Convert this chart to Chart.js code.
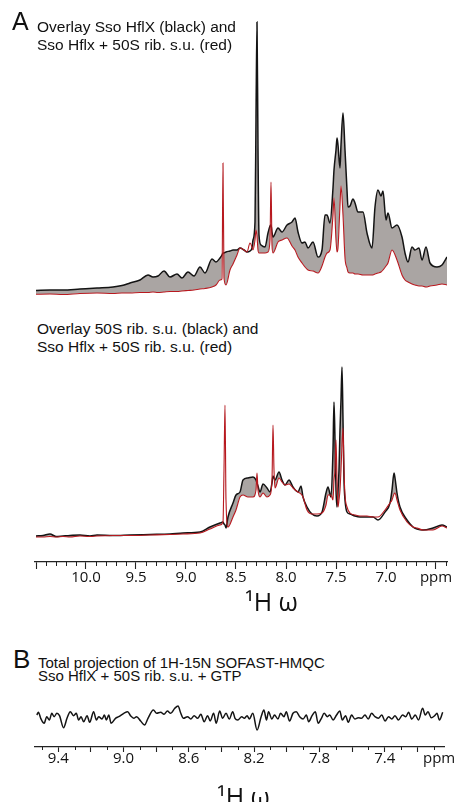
<!DOCTYPE html>
<html><head><meta charset="utf-8">
<script src="https://cdn.jsdelivr.net/npm/chart.js@4/dist/chart.umd.min.js"></script>
<style>
html,body{margin:0;padding:0;background:#fff;}
#fig{position:relative;width:462px;height:802px;overflow:hidden;font-family:"Liberation Sans",Arial,sans-serif;color:#111;}
canvas{position:absolute;left:0;}
.t{position:absolute;white-space:nowrap;z-index:2;}
.ax{font-family:"Open Sans",sans-serif;font-size:25px;line-height:25px;}
</style></head><body>
<div id="fig">
<canvas id="c1" width="462" height="290" style="top:10px;width:462px;height:290px"></canvas>
<canvas id="c2" width="462" height="242" style="top:360px;width:462px;height:242px"></canvas>
<canvas id="c3" width="462" height="87" style="top:695px;width:462px;height:87px"></canvas>

<div class="t" style="left:12px;top:9px;font-size:25px;line-height:25px;">A</div>
<div class="t" style="left:37px;top:18px;font-size:15.5px;line-height:18px;">Overlay Sso HflX (black) and<br>Sso Hflx + 50S rib. s.u. (red)</div>
<div class="t" style="left:37px;top:320px;font-size:15.5px;line-height:18px;">Overlay 50S rib. s.u. (black) and<br>Sso Hflx + 50S rib. s.u. (red)</div>
<div class="t ax" style="left:245px;top:589px;">¹H ω</div>

<div class="t" style="left:13px;top:646px;font-size:26px;line-height:26px;">B</div>
<div class="t" style="left:38px;top:657px;font-size:15px;line-height:12.5px;">Total projection of 1H-15N SOFAST-HMQC<br>Sso HflX + 50S rib. s.u. + GTP</div>
<div class="t" style="left:423px;top:748px;font-family:'Open Sans',sans-serif;font-size:15px;line-height:18px;">ppm</div>
<div class="t ax" style="left:217px;top:784px;">¹H ω</div>
</div>
<script>
// ---- Panel A, upper spectrum (ppm, intensity in arbitrary units) ----
const ppmTop = [10.50,10.36,10.23,10.06,9.89,9.73,9.64,9.56,9.46,9.38,
  9.33,9.28,9.22,9.16,9.09,9.04,8.98,8.92,8.86,8.81,
  8.74,8.70,8.66,8.64,8.63,8.62,8.60,8.56,8.53,8.49,
  8.46,8.42,8.39,8.36,8.34,8.33,8.31,8.30,8.29,8.28,
  8.27,8.25,8.21,8.18,8.16,8.15,8.14,8.13,8.08,8.04,
  7.99,7.94,7.91,7.88,7.84,7.81,7.78,7.73,7.68,7.64,
  7.61,7.59,7.56,7.53,7.52,7.50,7.49,7.48,7.46,7.45,
  7.43,7.41,7.39,7.38,7.36,7.33,7.31,7.28,7.23,7.19,
  7.14,7.11,7.08,7.05,7.03,7.00,6.98,6.94,6.89,6.84,
  6.81,6.78,6.74,6.71,6.67,6.64,6.60,6.56,6.49,6.44,
  6.39];
const blackTop = [9.5,10,10,11,12,13,14.5,17,20,25,
  23,24,29,23,26,22,28,24,33,27,
  41,38,42,45,47,47,48,49,50,50,
  52,50,48,49,52,60,78,180,278,150,
  65,55,53,67,74,75,68,63,72,68,
  75,78,82,68,57,58,52,58,43,50,
  85,85,77,112,130,150,162,155,132,155,
  187,150,110,93,94,101,97,88,88,67,
  52,93,110,104,109,80,87,72,75,63,
  47,38,53,50,52,40,53,37,33,35,
  43];
const redTop = [5.7,6,5.5,6.5,7,6.5,7,7,7.5,7.5,
  8,7.5,8,8.5,8.5,9,9.5,10,11,11.5,
  13,15,20,21,137,22,15,30,36,45,
  52,50,48,57,53,50,60,70,64,50,
  47,47,47,48,60,118,55,47,58,60,
  62,54,50,43,37,33,30,29,27,34,
  43,47,50,85,102,60,48,52,95,114,
  85,42,32,28,27,27,26,26,25,25,
  25,26,27,28,30,34,37,50,40,25,
  20,18,16,15,14,14,13,14,15,16,
  15];

// ---- Panel A, lower spectrum ----
const ppmMid = [10.50,10.43,10.36,10.30,10.23,10.16,10.06,9.96,9.89,9.73,
  9.56,9.36,9.16,9.03,8.86,8.76,8.66,8.63,8.62,8.61,
  8.60,8.58,8.53,8.50,8.46,8.43,8.38,8.33,8.30,8.29,
  8.28,8.26,8.23,8.19,8.16,8.14,8.13,8.12,8.11,8.07,
  8.04,8.01,7.97,7.93,7.88,7.85,7.83,7.79,7.74,7.69,
  7.64,7.60,7.58,7.55,7.53,7.52,7.51,7.50,7.49,7.48,
  7.47,7.46,7.45,7.44,7.43,7.42,7.41,7.39,7.36,7.31,
  7.26,7.19,7.13,7.08,7.01,6.96,6.94,6.92,6.91,6.89,
  6.86,6.79,6.73,6.69,6.63,6.53,6.44,6.39];
const blackMid = [26,26.5,28,25.5,26,26.5,27,26,27,26.5,
  27,27.5,28,29,30,35,39,40,38,37,
  34,45,59,67,70,82,84,85,82,79,
  76,70,78,74,70,79,86,84,82,90,
  82,77,82,75,70,76,65,55,48,46,
  50,69,75,65,112,160,122,72,55,72,
  92,132,162,195,142,82,62,50,48,46,
  45,45,45,42,50,59,72,89,84,69,
  55,42,35,33,32,34,37,35];
const redMid = [25,25,25.5,25,25.5,25,26,25.5,26,26.5,
  26.5,27,27.5,28,29,33,37,40,92,157,
  62,35,45,52,65,67,65,65,72,89,
  72,65,69,65,67,82,137,92,74,84,
  80,77,78,74,70,68,65,52,48,48,
  49,57,67,67,62,82,92,122,82,55,
  62,72,92,117,134,92,67,55,49,47,
  46,46,45,45,52,59,62,68,69,62,
  52,40,35,34,32,32,36,34];

// ---- Panel B, total projection ----
const ppmB = [9.531,9.521,9.507,9.486,9.470,9.454,9.439,9.425,9.408,9.392,
  9.367,9.346,9.326,9.306,9.289,9.275,9.260,9.244,9.223,9.207,
  9.183,9.166,9.152,9.131,9.117,9.105,9.090,9.076,9.049,9.029,
  8.998,8.974,8.957,8.937,8.920,8.895,8.871,8.850,8.817,8.797,
  8.772,8.752,8.731,8.711,8.686,8.666,8.649,8.633,8.608,8.588,
  8.567,8.546,8.526,8.506,8.485,8.469,8.448,8.432,8.411,8.393,
  8.372,8.352,8.331,8.317,8.300,8.276,8.260,8.243,8.229,8.208,
  8.182,8.157,8.140,8.124,8.112,8.091,8.075,8.054,8.038,8.017,
  8.003,7.983,7.962,7.942,7.921,7.900,7.880,7.866,7.845,7.825,
  7.808,7.788,7.771,7.751,7.737,7.716,7.695,7.675,7.660,7.640,
  7.623,7.603,7.583,7.562,7.542,7.521,7.501,7.480,7.460,7.439,
  7.418,7.398,7.377,7.357,7.337,7.316,7.291,7.271,7.254,7.234,
  7.213,7.193,7.168,7.152,7.135,7.115,7.094,7.080,7.065,7.045];
const projB = [32,34.7,28.7,23.7,30.3,27,33.7,30.3,33.7,31.3,
  19.3,28.7,35.3,31.3,33.7,27,30.3,25.3,31.3,24.7,
  35.3,27,30.3,28,32,27,32,23.7,28.7,30.3,
  33.7,35.3,31.3,28.7,30.3,26,22,28.7,37,33.7,
  34.7,32.7,36,33.7,38.7,41,33.7,28.7,30.3,28,
  31.3,28.7,32.7,25.3,31.3,26,33.7,23.7,36,28.7,
  33.7,28,35.3,28.7,27,30.3,28.7,31.3,28,33.7,
  17,30.3,37,27,35.3,28,32,28,33.7,30.3,
  35.3,26,33.7,35.3,30.3,28,32,25.3,31.3,35.3,
  23.7,28.7,33.7,30.3,32,27,32,36,27,31.3,
  24.7,32,28,29.3,28.7,32,28,33.7,30.3,28.7,
  32,26,30.3,28,31.3,27,32,30.3,34.7,28,
  32,27,38.7,32,35.3,29.3,31.3,33.7,27,34.7];

// ---- axis ticks ----
const axisTicksA = [10.0,9.5,9.0,8.5,8.0,7.5,7.0,6.5];
const axisLabelsA = ['10.0','9.5','9.0','8.5','8.0','7.5','7.0','ppm'];
const axisTicksB = [9.4,9.0,8.6,8.2,7.8,7.4];
const axisLabelsB = ['9.4','9.0','8.6','8.2','7.8','7.4'];

const BLACK = '#141414', RED = '#b8191f', GREY = '#aaa5a3', AXIS = '#222';
const pts = (xs, ys) => xs.map((x, i) => ({x: x, y: ys[i]}));
const near = (a, b) => Math.abs(a - b) < 1e-6;

// short minor tick marks drawn at the positions given by the Chart.js x scale
const minorTicks = {
  id: 'minorTicks',
  afterDraw(chart, args, opts) {
    if (!opts || !opts.len) return;
    const s = chart.scales.x, ctx = chart.ctx, y0 = chart.chartArea.bottom;
    ctx.save(); ctx.strokeStyle = AXIS; ctx.lineWidth = 1;
    s.ticks.forEach(t => {
      if (opts.isMajor(t.value)) return;
      const x = Math.round(s.getPixelForValue(t.value)) + 0.5;
      ctx.beginPath(); ctx.moveTo(x, y0); ctx.lineTo(x, y0 + opts.len); ctx.stroke();
    });
    ctx.restore();
  }
};

function makeChart(id, cfg) {
  const datasets = [];
  datasets.push({data: pts(cfg.ppm, cfg.black), borderColor: BLACK, borderWidth: 1.5,
    pointRadius: 0, cubicInterpolationMode: 'monotone', order: 1,
    fill: cfg.red ? {target: 1, above: GREY, below: 'rgba(0,0,0,0)'} : false});
  if (cfg.red) datasets.push({data: pts(cfg.ppm, cfg.red), borderColor: RED, borderWidth: 1.1,
    pointRadius: 0, cubicInterpolationMode: 'monotone', order: 0, fill: false});
  const xs = {type: 'linear', reverse: true, min: cfg.xmin, max: cfg.xmax,
    display: !!cfg.axis,
    grid: {drawOnChartArea: false, drawTicks: true, tickLength: cfg.axis ? cfg.axis.tl : 0,
      tickWidth: 1.1,
      tickColor: c => (cfg.axis && c.tick && cfg.axis.isMajor(c.tick.value)) ? AXIS : 'rgba(0,0,0,0)'},
    border: {display: true, color: AXIS, width: 1.3},
    afterBuildTicks: s => { if (cfg.axis) s.ticks = cfg.axis.values.map(v => ({value: v})); },
    afterFit: s => { if (cfg.axis) s.height = cfg.axis.h; },
    ticks: {autoSkip: false, maxRotation: 0, minRotation: 0, color: '#111',
      padding: cfg.axis ? cfg.axis.pad : 0,
      font: {family: '"Open Sans", sans-serif', size: 15},
      callback: v => {
        if (!cfg.axis) return '';
        const i = cfg.axis.tv.findIndex(t => near(t, v));
        return i >= 0 ? cfg.axis.tl2[i] : '';
      }}
  };
  return new Chart(document.getElementById(id), {
    type: 'line',
    data: {datasets: datasets},
    options: {
      responsive: false, animation: false,
      layout: {padding: {left: cfg.padL, right: cfg.padR, top: 0, bottom: 0}},
      scales: {x: xs, y: {display: false, min: 0, max: cfg.ymax}},
      plugins: {legend: {display: false}, tooltip: {enabled: false},
        minorTicks: cfg.axis ? {len: cfg.axis.minorLen, isMajor: cfg.axis.isMajor} : {}}
    },
    plugins: [minorTicks]
  });
}

// tick positions every 0.1 ppm (axis layout)
const stepsA = []; for (let k = 105; k >= 64; k--) stepsA.push(k / 10);
const stepsB = []; for (let k = 95; k >= 71; k--) stepsB.push(k / 10);

makeChart('c1', {ppm: ppmTop, black: blackTop, red: redTop, xmin: 6.39, xmax: 10.51,
  ymax: 290, padL: 35, padR: 15});
makeChart('c2', {ppm: ppmMid, black: blackMid, red: redMid, xmin: 6.39, xmax: 10.51,
  ymax: 202, padL: 35, padR: 15,
  axis: {values: stepsA, tv: axisTicksA, tl2: axisLabelsA, tl: 7, pad: 0, h: 40, minorLen: 4,
    isMajor: v => Math.abs(v * 2 - Math.round(v * 2)) < 1e-6}});
makeChart('c3', {ppm: ppmB, black: projB, red: null, xmin: 7.037, xmax: 9.542,
  ymax: 52, padL: 35, padR: 18,
  axis: {values: stepsB, tv: axisTicksB, tl2: axisLabelsB, tl: 5, pad: -2, h: 35, minorLen: 3,
    isMajor: v => Math.abs(v * 5 - Math.round(v * 5)) < 1e-6}});
</script>
</body></html>
